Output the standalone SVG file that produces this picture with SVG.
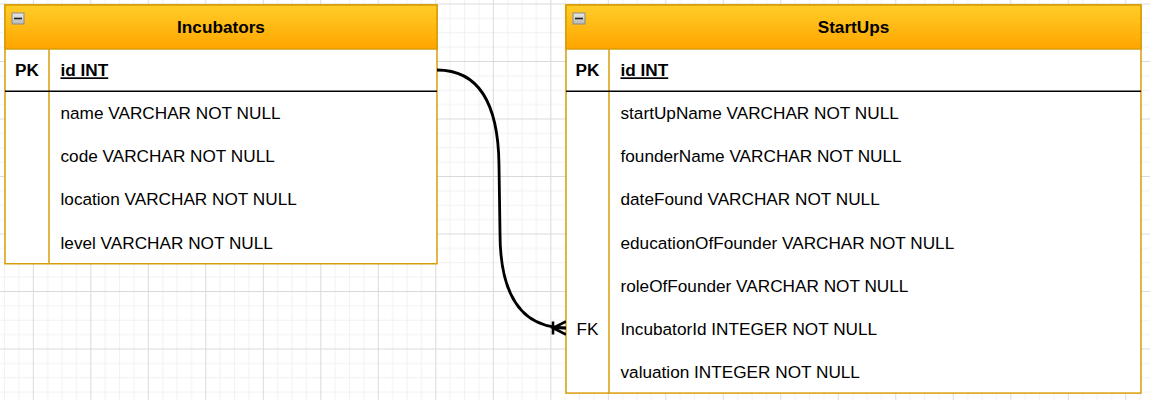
<svg xmlns="http://www.w3.org/2000/svg" width="1150" height="400" viewBox="0 0 1150 400">
  <defs>
    <pattern id="grid" patternUnits="userSpaceOnUse" x="32.8" y="3.5" width="57.5" height="57.5">
      <path d="M14.875,0 V57.5 M29.25,0 V57.5 M43.625,0 V57.5 M0,14.875 H57.5 M0,29.25 H57.5 M0,43.625 H57.5" stroke="#f1f1f1" stroke-width="1" fill="none"/>
      <path d="M0.5,0 V57.5 M0,0.5 H57.5" stroke="#dadada" stroke-width="1" fill="none"/>
    </pattern>
    <linearGradient id="hdr" x1="0" y1="0" x2="0" y2="1">
      <stop offset="0" stop-color="#ffcd28"/>
      <stop offset="1" stop-color="#ffa500"/>
    </linearGradient>
    <linearGradient id="btn" x1="0" y1="0" x2="0" y2="1">
      <stop offset="0" stop-color="#e8e8e8"/>
      <stop offset="1" stop-color="#b8b8b8"/>
    </linearGradient>
    <marker id="oneMany" viewBox="0 0 16 16" refX="16" refY="8" markerWidth="16" markerHeight="16" markerUnits="userSpaceOnUse" orient="auto">
      <path d="M16,1.5 L3,8 L16,14.5 M3,8 L16,8 M3,1.5 L3,14.5" fill="none" stroke="#000" stroke-width="2.6"/>
    </marker>
  </defs>
  <style>
    .frame { fill: #ffffff; stroke: #d79b00; stroke-width: 1.45; }
    .head { fill: url(#hdr); stroke: #d79b00; stroke-width: 1.45; }
    .div { stroke: #d79b00; stroke-width: 1.45; fill: none; }
    .sep { stroke: #000; stroke-width: 1.6; fill: none; }
    .btnbox { fill: url(#btn); stroke: #8a8a8a; stroke-width: 1; }
    .btndash { stroke: #222; stroke-width: 1.6; }
    text { font-family: "Liberation Sans", Arial, sans-serif; font-size: 17.2px; fill: #000; }
    .title { font-weight: bold; text-anchor: middle; }
    .key { text-anchor: middle; }
    .bold { font-weight: bold; }
    .ul { font-weight: bold; text-decoration: underline; }
    .edge { fill: none; stroke: #000; stroke-width: 2.8; }
  </style>
  <rect x="0" y="0" width="1150" height="400" fill="#ffffff"/>
  <rect x="0" y="0" width="1150" height="400" fill="url(#grid)"/>

  <g id="incubators">
    <rect class="frame" x="5" y="5" width="432" height="258.75"/>
    <rect class="head" x="5" y="5" width="432" height="44"/>
    <rect class="btnbox" x="12" y="13" width="12" height="11"/>
    <line class="btndash" x1="14" y1="18.5" x2="22" y2="18.5"/>
    <text class="title" x="221" y="33.3">Incubators</text>
    <line class="div" x1="49" y1="49" x2="49" y2="263.75"/>
    <line class="sep" x1="5" y1="91.25" x2="437" y2="91.25"/>
    <text class="key bold" x="27" y="76.3">PK</text>
    <text class="ul" x="60.5" y="76.3">id INT</text>
    <text x="60.5" y="119.2">name VARCHAR NOT NULL</text>
    <text x="60.5" y="162.3">code VARCHAR NOT NULL</text>
    <text x="60.5" y="205.4">location VARCHAR NOT NULL</text>
    <text x="60.5" y="248.5">level VARCHAR NOT NULL</text>
  </g>

  <g id="startups">
    <rect class="frame" x="566" y="5" width="575" height="388.1"/>
    <rect class="head" x="566" y="5" width="575" height="44"/>
    <rect class="btnbox" x="573" y="13" width="12" height="11"/>
    <line class="btndash" x1="575" y1="18.5" x2="583" y2="18.5"/>
    <text class="title" x="853.5" y="33.3">StartUps</text>
    <line class="div" x1="609" y1="49" x2="609" y2="393.1"/>
    <line class="sep" x1="566" y1="91.25" x2="1141" y2="91.25"/>
    <text class="key bold" x="587.5" y="76.3">PK</text>
    <text class="ul" x="620.5" y="76.3">id INT</text>
    <text x="620.5" y="119.2">startUpName VARCHAR NOT NULL</text>
    <text x="620.5" y="162.3">founderName VARCHAR NOT NULL</text>
    <text x="620.5" y="205.4">dateFound VARCHAR NOT NULL</text>
    <text x="620.5" y="248.5">educationOfFounder VARCHAR NOT NULL</text>
    <text x="620.5" y="291.7">roleOfFounder VARCHAR NOT NULL</text>
    <text class="key" x="587.5" y="334.8">FK</text>
    <text x="620.5" y="334.8">IncubatorId INTEGER NOT NULL</text>
    <text x="620.5" y="377.9">valuation INTEGER NOT NULL</text>
  </g>

  <g id="connectors">
    <path class="edge" d="M437,70 Q498,70 499,165 L500,233 Q500,328 566,328" marker-end="url(#oneMany)"/>
  </g>
</svg>
